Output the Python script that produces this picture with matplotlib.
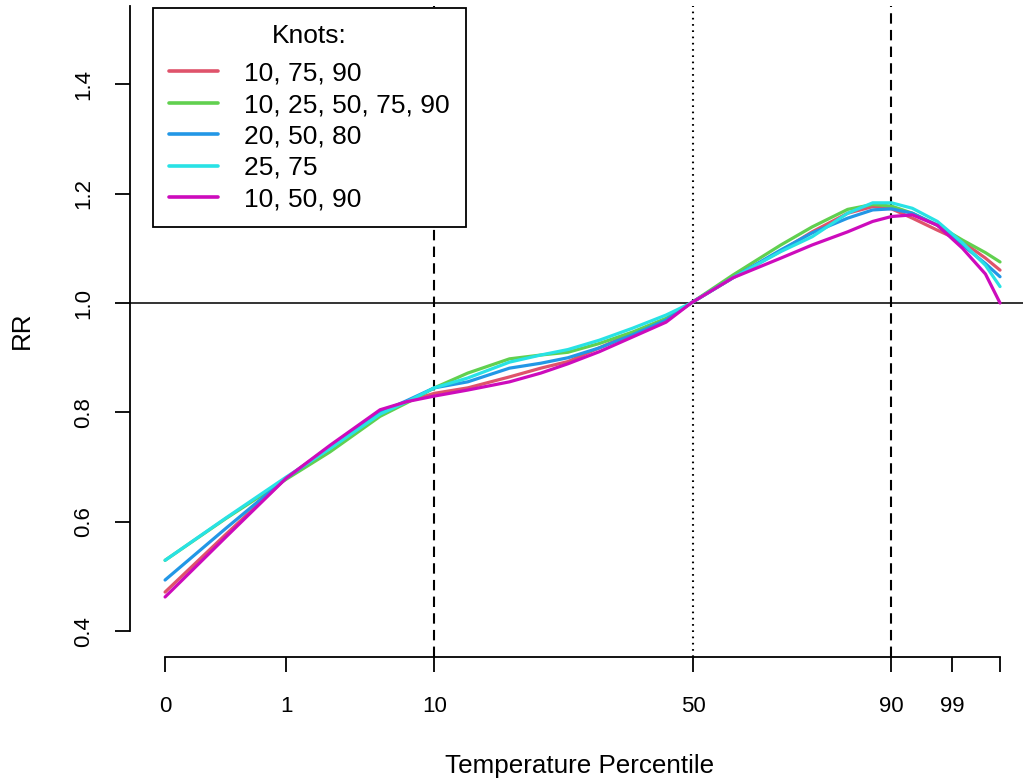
import matplotlib
matplotlib.use("Agg")
import matplotlib.pyplot as plt

plt.rcParams['font.family'] = ['Liberation Sans', 'DejaVu Sans']

# temperature grid (x) and relative risk for each knot choice
temp = [-8.0, -5.1, -2.2, -0.1, 2.3, 3.6, 4.9, 6.5, 8.5, 10.0, 11.3, 12.8, 14.4,
        16.0, 17.2, 19.2, 21.5, 23.0, 24.7, 25.9, 26.8, 27.8, 29.0, 30.2, 31.3, 32.0]

rr_10_75_90 = [0.472, 0.577, 0.680, 0.738, 0.802, 0.820, 0.835, 0.845, 0.865, 0.881, 0.893, 0.918, 0.945,
               0.969, 1.000, 1.046, 1.095, 1.130, 1.164, 1.176, 1.172, 1.155, 1.133, 1.112, 1.082, 1.060]
rr_10_25_50_75_90 = [0.530, 0.606, 0.678, 0.728, 0.793, 0.818, 0.845, 0.872, 0.898, 0.905, 0.910, 0.926, 0.947,
                     0.972, 1.000, 1.051, 1.106, 1.139, 1.171, 1.180, 1.177, 1.164, 1.142, 1.115, 1.092, 1.075]
rr_20_50_80 = [0.494, 0.588, 0.680, 0.736, 0.800, 0.822, 0.845, 0.856, 0.881, 0.890, 0.900, 0.918, 0.942,
               0.969, 1.000, 1.046, 1.097, 1.128, 1.155, 1.170, 1.172, 1.164, 1.142, 1.106, 1.072, 1.048]
rr_25_75 = [0.530, 0.607, 0.682, 0.734, 0.797, 0.820, 0.845, 0.863, 0.892, 0.905, 0.915, 0.932, 0.954,
            0.978, 1.000, 1.046, 1.094, 1.121, 1.164, 1.183, 1.183, 1.173, 1.149, 1.110, 1.069, 1.030]
rr_10_50_90 = [0.463, 0.572, 0.680, 0.740, 0.805, 0.820, 0.830, 0.841, 0.856, 0.872, 0.889, 0.911, 0.938,
               0.965, 1.000, 1.046, 1.082, 1.106, 1.130, 1.149, 1.158, 1.161, 1.142, 1.100, 1.053, 1.000]

series = [rr_10_75_90, rr_10_25_50_75_90, rr_20_50_80, rr_25_75, rr_10_50_90]
labels = ["10, 75, 90", "10, 25, 50, 75, 90", "20, 50, 80", "25, 75", "10, 50, 90"]
colors = ["#DF536B", "#61D04F", "#2297E6", "#28E2E5", "#CD0BBC"]

# percentile ticks on the temperature axis
tick_temp = [-8.0, -2.2, 4.9, 17.3, 26.8, 29.7, 32.0]
tick_lab = ["0", "1", "10", "50", "90", "99", ""]

fig = plt.figure(figsize=(10.23, 7.84), dpi=100)
ax = fig.add_axes([130 / 1023, 1 - 657 / 784, 1 - 130 / 1023, (657 - 6) / 784])

ax.axhline(1.0, color="#333333", lw=1.4, zorder=1)
ax.axvline(4.9, color="black", lw=1.5, ls=(0, (5, 3)), zorder=1)
ax.axvline(26.8, color="black", lw=1.5, ls=(0, (5, 3)), zorder=1)
ax.axvline(17.3, color="black", lw=1.5, ls=(0, (0.8, 2.2)), zorder=1)

for y, lab, c in zip(series, labels, colors):
    ax.plot(temp, y, color=c, lw=2.3, label=lab, solid_capstyle="round",
            solid_joinstyle="round", zorder=2)

ax.set_xlim(-9.68, 33.1)
ax.set_ylim(0.3534, 1.5425)

for s in ["top", "right"]:
    ax.spines[s].set_visible(False)
ax.spines["left"].set_bounds(0.4, 1.5425)
ax.spines["bottom"].set_bounds(-8.0, 32.0)
ax.spines["left"].set_linewidth(1.3)
ax.spines["bottom"].set_linewidth(1.3)

ax.set_xticks(tick_temp)
ax.set_xticklabels(tick_lab)
ax.set_yticks([0.4, 0.6, 0.8, 1.0, 1.2, 1.4])
ax.set_yticklabels(["0.4", "0.6", "0.8", "1.0", "1.2", "1.4"], rotation=90, va="center")
ax.tick_params(axis="both", labelsize=16, length=11, width=1.3, direction="out")
ax.tick_params(axis="x", pad=17)
ax.tick_params(axis="y", pad=15)

fig.text(580 / 1023, 1 - 766 / 784, "Temperature Percentile",
         ha="center", va="center", fontsize=18.7)
fig.text(22 / 1023, 1 - 330 / 784, "RR", ha="center", va="center", rotation=90, fontsize=18.7)

leg = ax.legend(title="Knots:", loc="upper left", bbox_to_anchor=(153 / 1023, 1 - 8 / 784),
                bbox_transform=fig.transFigure, borderaxespad=0, fontsize=19, title_fontsize=19,
                handlelength=1.86, handletextpad=1.0, borderpad=0.6, labelspacing=0.28,
                fancybox=False, framealpha=1, edgecolor="black")
leg.get_frame().set_linewidth(1.3)
leg._legend_box.sep = 10
for h in leg.get_lines():
    h.set_linewidth(2.6)
leg.set_zorder(5)

fig.savefig("out.png", dpi=100)
